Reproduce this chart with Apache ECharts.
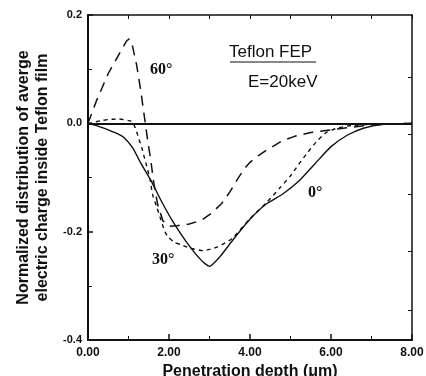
<!DOCTYPE html>
<html>
<head>
<meta charset="utf-8">
<script src="https://cdn.jsdelivr.net/npm/echarts@6/dist/echarts.min.js"></script>
<style>
  html, body { margin: 0; padding: 0; background: #fff; }
  #chart { width: 426px; height: 376px; }
</style>
</head>
<body>
<div id="chart"></div>
<script>
// 0 degree (solid)
const depth0 = [0, 0.25, 0.5, 0.75, 0.9, 1.1, 1.3, 1.55, 1.8, 2.1, 2.45, 2.8, 3.0, 3.25, 3.6, 4.0, 4.4, 4.8, 5.2, 5.6, 6.0, 6.4, 6.8, 7.3, 8.0];
const charge0 = [0, -0.005, -0.012, -0.02, -0.027, -0.045, -0.073, -0.105, -0.142, -0.182, -0.221, -0.253, -0.264, -0.247, -0.213, -0.177, -0.149, -0.131, -0.107, -0.075, -0.043, -0.022, -0.009, -0.002, 0];

// 30 degree (short dash)
const depth30 = [0, 0.33, 0.5, 0.75, 1.07, 1.12, 1.2, 1.26, 1.33, 1.38, 1.45, 1.53, 1.6, 1.7, 1.8, 1.9, 1.98, 2.14, 2.3, 2.5, 2.85, 3.2, 3.55, 4.0, 4.4, 4.74, 5.0, 5.2, 5.4, 5.65, 5.9, 6.15, 6.5, 7.0, 8.0];
const charge30 = [0, 0.005, 0.007, 0.008, 0.004, 0, -0.015, -0.03, -0.045, -0.06, -0.079, -0.103, -0.133, -0.155, -0.178, -0.2, -0.21, -0.22, -0.224, -0.23, -0.235, -0.228, -0.213, -0.176, -0.147, -0.119, -0.097, -0.076, -0.056, -0.033, -0.016, -0.009, -0.004, -0.002, 0];

// 60 degree (long dash)
const depth60 = [0, 0.2, 0.5, 0.8, 0.95, 1.02, 1.1, 1.2, 1.3, 1.4, 1.48, 1.55, 1.62, 1.72, 1.85, 2.0, 2.2, 2.5, 2.8, 3.05, 3.3, 3.5, 3.7, 3.85, 4.0, 4.2, 4.4, 4.8, 5.1, 5.5, 6.0, 6.4, 7.0, 8.0];
const charge60 = [0, 0.04, 0.092, 0.132, 0.152, 0.156, 0.142, 0.108, 0.062, 0.008, -0.035, -0.068, -0.108, -0.15, -0.18, -0.19, -0.189, -0.186, -0.179, -0.166, -0.148, -0.127, -0.102, -0.085, -0.072, -0.06, -0.05, -0.032, -0.024, -0.017, -0.012, -0.008, -0.003, 0];

const rightTicks = [0.086, -0.02, -0.13, -0.237, -0.345];

function pairs(xs, ys) {
  return xs.map((x, i) => [x, ys[i]]);
}

const black = "#111";
const font = "'Liberation Sans', Arial, sans-serif";
const serif = "'Liberation Serif', 'Times New Roman', serif";

const chart = echarts.init(document.getElementById("chart"), null, { renderer: "canvas" });

const option = {
  animation: false,
  backgroundColor: "#fff",
  grid: { left: 88, right: 14, top: 15, bottom: 36, outerBoundsMode: "none", containLabel: false },
  xAxis: [
    {
      type: "value",
      min: 0,
      max: 8,
      interval: 2,
      name: "Penetration depth (\u03bcm)",
      nameLocation: "middle",
      nameGap: 20,
      nameTextStyle: { color: black, fontFamily: font, fontWeight: "bold", fontSize: 16 },
      axisLine: { onZero: false, lineStyle: { color: black, width: 2 } },
      axisTick: { inside: true, length: 6, lineStyle: { color: black, width: 1.5 } },
      minorTick: { show: true, splitNumber: 2, length: 4, lineStyle: { color: black, width: 1 } },
      axisLabel: {
        color: black, fontFamily: font, fontWeight: "bold", fontSize: 12, margin: 7,
        formatter: (v) => v.toFixed(2),
      },
      splitLine: { show: false },
    },
    {
      type: "value",
      position: "top",
      min: 0,
      max: 8,
      interval: 1,
      axisLine: { onZero: false, lineStyle: { color: black, width: 1.5 } },
      axisTick: { inside: true, length: 4, lineStyle: { color: black, width: 1 } },
      axisLabel: { show: false },
      splitLine: { show: false },
    },
  ],
  yAxis: [
    {
      type: "value",
      min: -0.4,
      max: 0.2,
      interval: 0.2,
      name: "Normalized distribution of averge\nelectric charge inside Teflon film",
      nameLocation: "middle",
      nameRotate: 90,
      nameGap: 36,
      nameTextStyle: { color: black, fontFamily: font, fontWeight: "bold", fontSize: 16, lineHeight: 19 },
      axisLine: { onZero: false, lineStyle: { color: black, width: 2 } },
      axisTick: { inside: true, length: 5, lineStyle: { color: black, width: 1.5 } },
      minorTick: { show: true, splitNumber: 2, length: 4, lineStyle: { color: black, width: 1 } },
      axisLabel: {
        color: black, fontFamily: font, fontWeight: "bold", fontSize: 11, margin: 6,
        formatter: (v) => (Math.abs(v) < 1e-9 ? "0.0" : v.toFixed(1)),
      },
      splitLine: { show: false },
    },
    {
      type: "value",
      position: "right",
      min: -0.4,
      max: 0.2,
      axisLine: { onZero: false, lineStyle: { color: black, width: 1.5 } },
      axisTick: { inside: true, length: 4, customValues: rightTicks, lineStyle: { color: black, width: 1 } },
      axisLabel: { show: false },
      splitLine: { show: false },
    },
  ],
  series: [
    {
      name: "0deg",
      type: "line",
      data: pairs(depth0, charge0),
      showSymbol: false,
      smooth: 0.2,
      lineStyle: { color: black, width: 1.4 },
      markLine: {
        silent: true,
        symbol: "none",
        label: { show: false },
        lineStyle: { color: black, width: 2, type: "solid" },
        data: [{ yAxis: 0 }],
      },
    },
    {
      name: "30deg",
      type: "line",
      data: pairs(depth30, charge30),
      showSymbol: false,
      smooth: 0.2,
      lineStyle: { color: black, width: 1.4, type: [4, 4] },
    },
    {
      name: "60deg",
      type: "line",
      data: pairs(depth60, charge60),
      showSymbol: false,
      smooth: false,
      lineStyle: { color: black, width: 1.5, type: [10, 7] },
    },
  ],
  graphic: [
    {
      type: "text", left: 229, top: 44,
      style: { text: "Teflon FEP", fill: black, font: "17px " + font },
    },
    {
      type: "line", shape: { x1: 230, y1: 62, x2: 316, y2: 62 },
      style: { stroke: black, lineWidth: 1.2 },
    },
    {
      type: "text", left: 248, top: 74,
      style: { text: "E=20keV", fill: black, font: "17px " + font },
    },
    {
      type: "text", left: 150, top: 62,
      style: { text: "60\u00b0", fill: black, font: "bold 16px " + serif },
    },
    {
      type: "text", left: 152, top: 252,
      style: { text: "30\u00b0", fill: black, font: "bold 16px " + serif },
    },
    {
      type: "text", left: 308, top: 185,
      style: { text: "0\u00b0", fill: black, font: "bold 16px " + serif },
    },
  ],
};

chart.setOption(option);
</script>
</body>
</html>
